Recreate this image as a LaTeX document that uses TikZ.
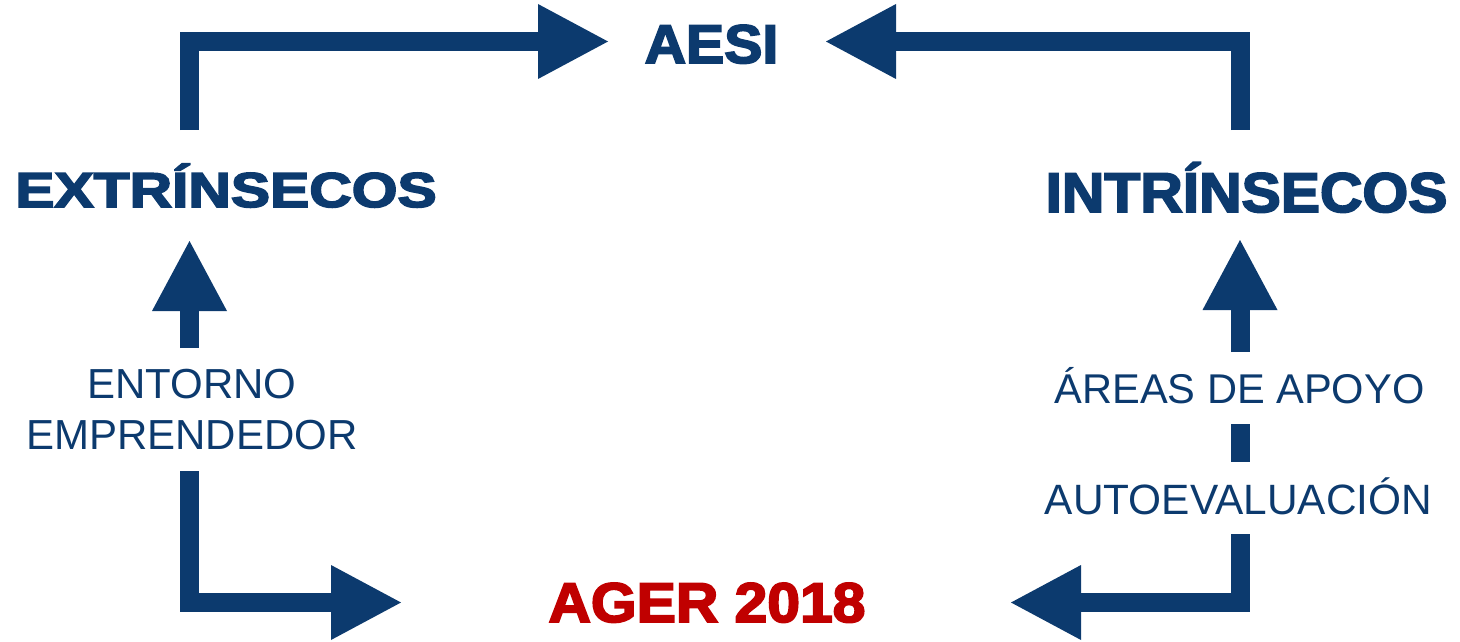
\documentclass[tikz,border=0pt]{standalone}
\usepackage{fontspec}
\setmainfont{Liberation Sans}
\newfontfamily\heavy[FakeBold=3.2]{Liberation Sans Bold}
\usetikzlibrary{arrows.meta}
\definecolor{navy}{RGB}{12,58,110}
\definecolor{crimson}{RGB}{192,0,0}
\begin{document}
\begin{tikzpicture}[x=1pt,y=-1pt,
  conn/.style={draw=navy, line width=19pt, line join=miter,
    -{Triangle[length=70pt,width=75pt,line width=0pt]}},
  seg/.style={draw=navy, line width=19pt},
  lbl/.style={text=navy, inner sep=0pt, anchor=base},
  sub/.style={text=navy, inner sep=0pt, align=center,
    font=\fontsize{42}{51}\selectfont}
]
\useasboundingbox (0,0) rectangle (1460,642);

% titles
\node[lbl] (aesi) at (711.5,63) {\scalebox{1.05}[1]{\heavy\fontsize{54.5}{60}\selectfont AESI}};
\node[lbl] (ext) at (226,207) {\scalebox{1.2}[1]{\heavy\fontsize{49}{55}\selectfont EXTRÍNSECOS}};
\node[lbl] (int) at (1246.5,212) {\scalebox{1.05}[1]{\heavy\fontsize{56}{62}\selectfont INTRÍNSECOS}};
\node[lbl, text=crimson] (ager) at (707,622) {\scalebox{1.05}[1]{\heavy\fontsize{56}{62}\selectfont AGER 2018}};

% sub labels
\node[sub] (ent) at (192,409.5) {ENTORNO\\EMPRENDEDOR};
\node[lbl, font=\fontsize{41.6}{50}\selectfont] (areas) at (1239.5,403) {ÁREAS DE APOYO};
\node[lbl, font=\fontsize{42.4}{50}\selectfont] (auto) at (1238.5,514) {AUTOEVALUACIÓN};

% connector ends
\coordinate (extTop) at (189.5,130);
\coordinate (extBot) at (189.5,241);
\coordinate (aesiL) at (608,41.5);
\coordinate (aesiR) at (826,41.5);
\coordinate (intTop) at (1240,130);
\coordinate (intBot) at (1240,240);
\coordinate (entTop) at (189.5,348);
\coordinate (entBot) at (189.5,471);
\coordinate (agerL) at (401,602.5);
\coordinate (agerR) at (1011,602.5);
\coordinate (areasTop) at (1240,352);
\coordinate (areasBot) at (1240,424);
\coordinate (autoTop) at (1240,462);
\coordinate (autoBot) at (1240,534);

% connectors
\draw[conn] (extTop) |- (aesiL);
\draw[conn] (intTop) |- (aesiR);
\draw[conn] (entTop) -- (extBot);
\draw[conn] (entBot) |- (agerL);
\draw[conn] (areasTop) -- (intBot);
\draw[seg] (areasBot) -- (autoTop);
\draw[conn] (autoBot) |- (agerR);
\end{tikzpicture}
\end{document}
